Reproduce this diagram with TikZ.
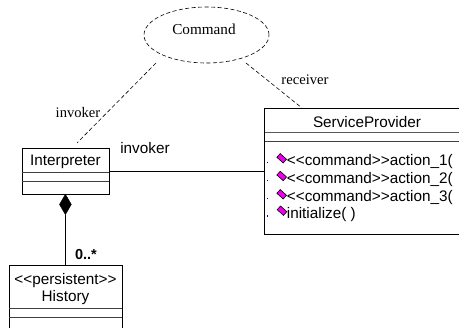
\documentclass[tikz,border=0pt]{standalone}
\usepackage{fontspec}
\setmainfont{Liberation Serif}
\newfontfamily\umlsans{Liberation Sans}
\usetikzlibrary{shapes.geometric}
\definecolor{opmag}{HTML}{EE00EE}
\tikzset{
  x=1pt,y=-1pt,
  line width=0.8pt,
  classbox/.style={draw=black,rectangle,inner sep=0pt,anchor=north west},
  rule/.style={draw=black!75,line width=0.8pt},
  assoc/.style={draw=black,line width=0.7pt},
  dep/.style={draw=black,line width=0.6pt,dash pattern=on 4pt off 2.5pt},
  seriflabel/.style={font=\fontsize{14.6}{16}\selectfont,inner sep=0pt},
  sanslabel/.style={font=\umlsans\fontsize{15.3}{17}\selectfont,inner sep=0pt},
  opicon/.style={fill=opmag,draw=black,line width=0.6pt,rectangle,minimum width=8.5pt,minimum height=5pt,inner sep=0pt,rotate=-42},
  optext/.style={font=\umlsans\fontsize{15.3}{17}\selectfont,inner sep=0pt,anchor=west},
  tick/.style={fill=blue!80!black,inner sep=0pt,minimum size=1.3pt,rectangle}
}
\begin{document}
\begin{tikzpicture}
\useasboundingbox (0,0) rectangle (459,328);
% use case
\node[ellipse,draw=black,line width=0.6pt,dash pattern=on 4pt off 2.5pt,minimum width=125pt,minimum height=56pt,inner sep=0pt] (cmd) at (206.5,35) {};
\node[seriflabel,font=\fontsize{15.2}{17}\selectfont] (cmdl) at (204,29) {Command};
% Interpreter
\node[classbox,minimum width=87.5pt,minimum height=45.5pt] (int) at (21.7,148.3) {};
\node[sanslabel] (intl) at (65.5,161.5) {Interpreter};
\coordinate (intA) at (21.7,172.7); \coordinate (intB) at (109.2,172.7);
\coordinate (intC) at (21.7,181.7); \coordinate (intD) at (109.2,181.7);
\draw[rule] (intA) -- (intB); \draw[rule] (intC) -- (intD);
% History (runs off the lower edge)
\coordinate (hTL) at (9.3,265); \coordinate (hTR) at (121.7,265);
\coordinate (hBL) at (9.3,330); \coordinate (hBR) at (121.7,330);
\draw[draw=black] (hBL) -- (hTL) -- (hTR) -- (hBR);
\node[sanslabel] (hst) at (65.5,280.5) {<{}<persistent>{}>};
\node[sanslabel] (hnm) at (65.5,298) {History};
\coordinate (hA) at (9.3,308.3); \coordinate (hB) at (121.7,308.3);
\coordinate (hC) at (9.3,317.3); \coordinate (hD) at (121.7,317.3);
\draw[rule] (hA) -- (hB); \draw[rule] (hC) -- (hD);
\coordinate (hTop) at (65.4,265);
% ServiceProvider (runs off the right edge)
\coordinate (sTL) at (264.5,108); \coordinate (sTR) at (461,108);
\coordinate (sBL) at (264.5,234); \coordinate (sBR) at (461,234);
\draw[draw=black] (sTR) -- (sTL) -- (sBL) -- (sBR);
\node[sanslabel] (spl) at (367,122) {ServiceProvider};
\coordinate (sA) at (264.5,132.7); \coordinate (sB) at (461,132.7);
\coordinate (sC) at (264.5,141.7); \coordinate (sD) at (461,141.7);
\draw[draw=black!65,line width=1.3pt] (sA) -- (sB); \draw[rule] (sC) -- (sD);
\coordinate (sIn) at (264.5,171);
\coordinate (sDep) at (302,108);
% operations
\foreach \n/\y/\t in {1/161.7/<{}<command>{}>action\_1(,2/180/<{}<command>{}>action\_2(,3/198/<{}<command>{}>action\_3(}{
  \node[optext] (op\n) at (286.7,\y) {\t};
}
\node[optext] (op4) at (286.7,215) {initialize( )};
\foreach \n/\y/\xx in {1/158.3/281.7,2/176/281.7,3/194.3/281.7,4/210.7/282}{
  \node[opicon] (ic\n) at (\xx,\y) {};
}
\foreach \n/\y in {1/162.7,2/180.7,3/198.7,4/216}{
  \node[tick] (tk\n) at (267.3,\y) {};
}
% diamond and connectors
\node[diamond,fill=black,draw=black,aspect=0.6,minimum width=12pt,minimum height=20.5pt,inner sep=0pt,anchor=north] (dia) at (65.4,194) {};
\draw[assoc] (dia.south) -- (hTop);
\coordinate (intR) at (109.2,171);
\draw[assoc] (intR) -- (sIn);
\coordinate (cmdA) at (156,63);
\coordinate (intTop) at (77,143);
\draw[dep] (cmdA) -- (intTop);
\coordinate (cmdB) at (246,63);
\draw[dep] (cmdB) -- (sDep);
% labels
\node[seriflabel] (linv) at (78,112.7) {invoker};
\node[seriflabel] (lrec) at (305,80) {receiver};
\node[sanslabel] (lin2) at (145,148) {invoker};
\node[sanslabel,font=\umlsans\bfseries\fontsize{14.5}{16}\selectfont] (lmul) at (86,255) {0..*};
\end{tikzpicture}
\end{document}
